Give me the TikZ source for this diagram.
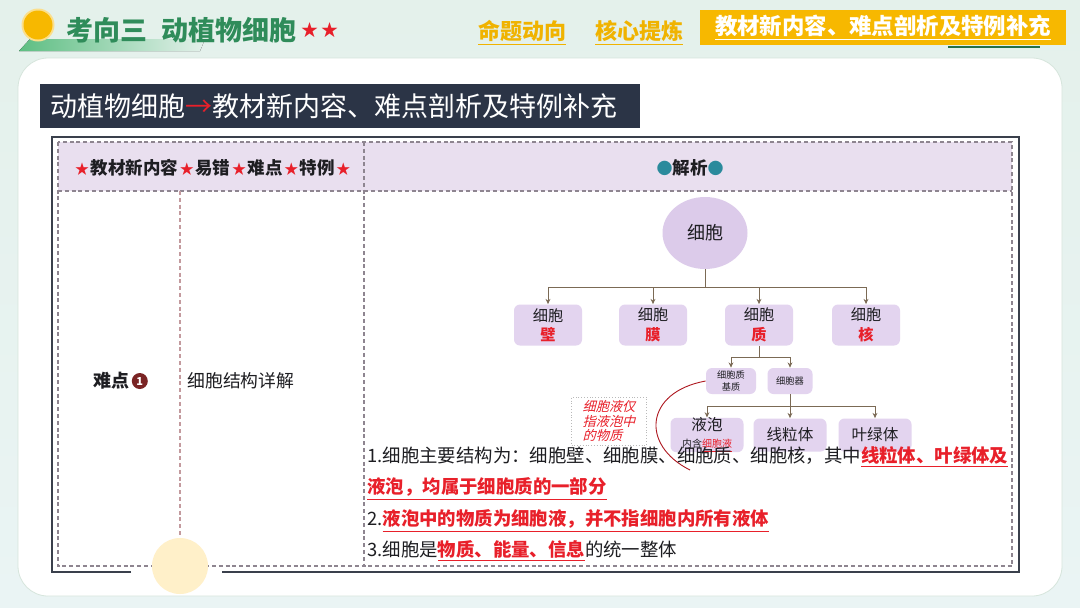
\documentclass[tikz,border=0pt]{standalone}
\usepackage{fontspec}
\setmainfont{Noto Sans CJK SC}
\newfontfamily\handfont{Noto Sans CJK SC}[FakeSlant=0.25]
\usepackage{tikz}
\usetikzlibrary{positioning,shapes.geometric,arrows.meta}
\definecolor{ink}      {HTML}{1E1E22}
\definecolor{bgtop}    {HTML}{E4F1EB}
\definecolor{bgbot}    {HTML}{EAF4F4}
\definecolor{leafgreen}{HTML}{2F8C5A}
\definecolor{bandgreen}{HTML}{5DBE82}
\definecolor{sun}      {HTML}{F7B800}
\definecolor{tabgold}  {HTML}{F0B300}
\definecolor{navy}     {HTML}{2B3446}
\definecolor{frame}    {HTML}{3A404C}
\definecolor{dashgray} {HTML}{8E8590}
\definecolor{dashpink} {HTML}{C39A9E}
\definecolor{lavender} {HTML}{E9DFEF}
\definecolor{cellfill} {HTML}{DCCBEA}
\definecolor{boxfill}  {HTML}{E3D4EF}
\definecolor{keyred}   {HTML}{E8202A}
\definecolor{edgebrown}{HTML}{7B6A55}
\definecolor{dotteal}  {HTML}{2A8A9C}
\definecolor{cream}    {HTML}{FFF0C9}
\definecolor{badgered} {HTML}{7A2424}
\definecolor{panelline}{HTML}{D6E5DC}
\newcommand\fsz[2]{\fontsize{#1}{#2}\selectfont}
\newcommand\hl[1]{\textcolor{keyred}{\bfseries\underline{#1}}}
\newcommand\rstar{{\fsz{7}{8}\hspace{0.8pt}\textcolor{keyred}{★}\hspace{0.8pt}}}
\tikzset{
  >=stealth,
  % --- nodes
  tabtxt/.style  = {font=\fsz{11}{13}\bfseries, text=tabgold, inner sep=0pt},
  banner/.style  = {fill=navy, text=white, anchor=north west, text width=290pt,
                    align=left, inner xsep=5pt, minimum height=22pt,
                    font=\fsz{13.5}{15}},
  cellnode/.style= {ellipse, fill=cellfill, minimum width=42.5pt, minimum height=36pt,
                    inner sep=0pt, font=\fsz{9}{10}, text=ink},
  part/.style    = {rounded corners=3pt, fill=boxfill, minimum width=34pt,
                    minimum height=20.5pt, inner sep=0pt, align=center,
                    font=\fsz{7.6}{9.8}, text=ink},
  sub/.style     = {part, minimum width=25pt, minimum height=13pt, font=\fsz{4.6}{5.6}},
  leaf/.style    = {part, minimum width=36.5pt, minimum height=16.5pt, font=\fsz{7.8}{8.2}},
  note/.style    = {draw=gray!55, densely dotted, text=keyred, align=left,
                    font=\handfont\fsz{6.6}{7.3}, minimum width=37.5pt,
                    minimum height=24pt, inner sep=1.5pt},
  body/.style    = {anchor=west, inner sep=0pt, text=ink, font=\fsz{9.2}{11}},
  badge/.style   = {circle, fill=badgered, text=white, inner sep=0pt, minimum size=8pt,
                    font=\fsz{5.5}{6}\bfseries},
  % --- edges
  link/.style    = {draw=edgebrown, line width=0.45pt},
  arr/.style     = {link, -{Stealth[length=2.6pt,width=2.4pt]}},
  tabline/.style = {draw=dashgray, line width=0.55pt, dash pattern=on 2pt off 1.4pt},
  frameline/.style={draw=frame, line width=1.4pt},
}

\begin{document}
\begin{tikzpicture}[x=0.5pt,y=-0.5pt,
  hdr/.style={font=\fsz{8.75}{10}\bfseries, text=ink, inner sep=0pt},
]
  \useasboundingbox (0,0) rectangle (1080,607);
  \shade[top color=bgtop, bottom color=bgbot] (0,0) rectangle (1080,607);

  % title strip
  \fill[left color=bandgreen, right color=bgtop] (30,39) -- (205,39) -- (200,51) -- (19,51) -- cycle;
  \fill[sun!45] (38,25) circle (16.5);
  \fill[sun] (38,25) circle (14.5);
  \node[anchor=west, inner sep=0pt, text=leafgreen, font=\fsz{13.5}{15}\bfseries] (title) at (66,30) {考向三\hspace{7pt}动植物细胞};
  \node[right=2pt of title, inner sep=0pt, text=keyred, font=\fsz{8.5}{9}] (titlestars) {★\,★};

  % tabs
  \node[tabtxt] (tabA) at (522,33) {\underline{命题动向}};
  \node[tabtxt] (tabB) at (639,33) {\underline{核心提炼}};
  \node[tabtxt, fill=sun, text=white, minimum width=183pt, minimum height=17.5pt, font=\fsz{11.2}{13}\bfseries] (tabC) at (883,27.5) {\underline{教材新内容、难点剖析及特例补充}};
  \draw[leafgreen!80!black, line width=1.3pt] (948,47) -- (1040,47);

  % white panel
  \draw[panelline, fill=white, rounded corners=15pt] (18,58) rectangle (1062,596);
  \node[banner] (banner) at (40,84) {动植物细胞\textcolor{keyred}{→}教材新内容、难点剖析及特例补充};

  % table
  \draw[frameline] (131,572) -- (52,572) -- (52,137) -- (1019,137) -- (1019,572) -- (222,572);
  \fill[lavender] (58,142) rectangle (1012,191);
  \draw[tabline] (58,142) rectangle (1012,566);
  \draw[tabline] (58,191) -- (1012,191);
  \draw[tabline] (364,142) -- (364,566);
  \draw[tabline, draw=dashpink] (180,191) -- (180,566);
  \fill[cream] (180,566) circle (28);

  \node[hdr] (hdrL) at (212,168) {\rstar 教材新内容\rstar 易错\rstar 难点\rstar 特例\rstar};
  \node[hdr] (hdrR) at (690,168) {{\fsz{8}{9}\textcolor{dotteal}{●}}解析{\fsz{8}{9}\textcolor{dotteal}{●}}};

  \node[inner sep=0pt, font=\fsz{9}{10}\bfseries, text=ink] (hard) at (111,381) {难点};
  \node[badge, right=1pt of hard] (one) {1};
  \node[anchor=west, inner sep=0pt, font=\fsz{8.9}{10}, text=ink] (topic) at (187,381) {细胞结构详解};

  % cell tree
  \node[cellnode] (cell) at (705,233) {细胞};
  \node[part] (wall)  at (548,325) {细胞\\\textcolor{keyred}{\bfseries 壁}};
  \node[part] (memb)  at (653,325) {细胞\\\textcolor{keyred}{\bfseries 膜}};
  \node[part] (cyto)  at (759,325) {细胞\\\textcolor{keyred}{\bfseries 质}};
  \node[part] (nucl)  at (866,325) {细胞\\\textcolor{keyred}{\bfseries 核}};
  \node[sub] (cytosol) at (731,381) {细胞质\\基质};
  \node[sub, minimum width=22.5pt] (organ) at (790,381) {细胞器};
  \node[leaf] (vac)    at (707,435) {液泡\\{\fsz{5}{5.5}内含\textcolor{keyred}{\underline{细胞液}}}};
  \node[leaf] (mito)   at (790,435) {线粒体};
  \node[leaf] (chloro) at (875,435) {叶绿体};

  \coordinate (hub1) at (705,287);
  \coordinate (hub2) at (759,357);
  \coordinate (hub3) at (790,406);
  \draw[link] (cell.south) -- (hub1);
  \foreach \n in {wall,memb,cyto,nucl} \draw[arr] (hub1) -| (\n.north);
  \draw[link] (cyto.south) -- (hub2);
  \foreach \n in {cytosol,organ} \draw[arr] (hub2) -| (\n.north);
  \draw[link] (organ.south) -- (hub3);
  \foreach \n in {vac,mito,chloro} \draw[arr] (hub3) -| (\n.north);

  \node[note] (remark) at (609,421) {细胞液仅\\指液泡中\\的物质};
  \coordinate (curveend) at (690,470);
  \draw[keyred!75!black, line width=0.45pt] (cytosol.west) .. controls (645,392) and (640,445) .. (curveend);

  % analysis text
  \node[body] (pt1)  at (367,457) {1.细胞主要结构为：细胞壁、细胞膜、细胞质、细胞核，其中\hl{线粒体、叶绿体及}};
  \node[body] (pt1b) at (367,489) {\hl{液泡，均属于细胞质的一部分}};
  \node[body] (pt2)  at (367,521) {2.\hl{液泡中的物质为细胞液，并不指细胞内所有液体}};
  \node[body] (pt3)  at (367,551) {3.细胞是\hl{物质、能量、信息}的统一整体};
\end{tikzpicture}
\end{document}
